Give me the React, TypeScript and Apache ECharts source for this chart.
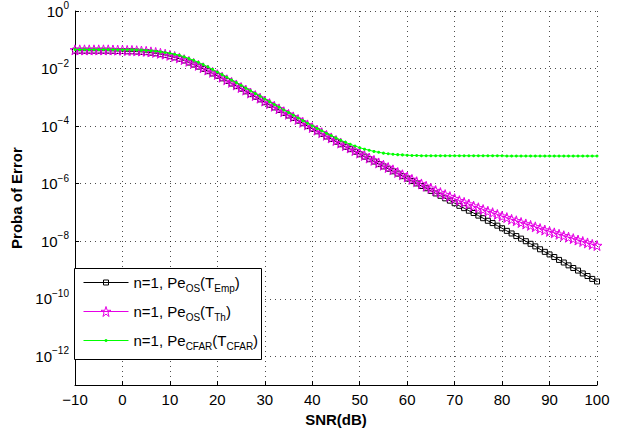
import React, { useEffect, useRef } from 'react';
import * as echarts from 'echarts';

// SNR in dB (one marker per dB)
const snrDb = [
  -10, -9, -8, -7, -6, -5, -4, -3, -2, -1,
  0, 1, 2, 3, 4, 5, 6, 7, 8, 9,
  10, 11, 12, 13, 14, 15, 16, 17, 18, 19,
  20, 21, 22, 23, 24, 25, 26, 27, 28, 29,
  30, 31, 32, 33, 34, 35, 36, 37, 38, 39,
  40, 41, 42, 43, 44, 45, 46, 47, 48, 49,
  50, 51, 52, 53, 54, 55, 56, 57, 58, 59,
  60, 61, 62, 63, 64, 65, 66, 67, 68, 69,
  70, 71, 72, 73, 74, 75, 76, 77, 78, 79,
  80, 81, 82, 83, 84, 85, 86, 87, 88, 89,
  90, 91, 92, 93, 94, 95, 96, 97, 98, 99,
  100,
];

// n=1, Pe_OS(T_Emp)  (black squares)
const peOsEmp = [
  4.17e-2, 4.17e-2, 4.17e-2, 4.17e-2, 4.17e-2, 4.17e-2, 4.17e-2, 4.17e-2, 4.12e-2, 4.07e-2,
  4.07e-2, 3.98e-2, 3.98e-2, 3.89e-2, 3.80e-2, 3.72e-2, 3.55e-2, 3.39e-2, 3.16e-2, 2.95e-2,
  2.69e-2, 2.45e-2, 2.19e-2, 1.91e-2, 1.62e-2, 1.38e-2, 1.17e-2, 9.77e-3, 8.13e-3, 6.76e-3,
  5.62e-3, 4.57e-3, 3.72e-3, 3.02e-3, 2.45e-3, 2.00e-3, 1.62e-3, 1.29e-3, 1.05e-3, 8.51e-4,
  6.76e-4, 5.50e-4, 4.47e-4, 3.63e-4, 2.88e-4, 2.34e-4, 1.91e-4, 1.55e-4, 1.26e-4, 1.00e-4,
  8.13e-5, 6.61e-5, 5.37e-5, 4.37e-5, 3.55e-5, 2.88e-5, 2.34e-5, 1.91e-5, 1.58e-5, 1.29e-5,
  1.05e-5, 8.71e-6, 7.08e-6, 5.89e-6, 4.79e-6, 3.98e-6, 3.31e-6, 2.69e-6, 2.24e-6, 1.82e-6,
  1.51e-6, 1.23e-6, 1.02e-6, 8.32e-7, 6.92e-7, 5.62e-7, 4.57e-7, 3.80e-7, 3.09e-7, 2.57e-7,
  2.09e-7, 1.70e-7, 1.41e-7, 1.15e-7, 9.55e-8, 7.76e-8, 6.31e-8, 5.13e-8, 4.27e-8, 3.47e-8,
  2.82e-8, 2.29e-8, 1.86e-8, 1.51e-8, 1.23e-8, 1.00e-8, 8.13e-9, 6.61e-9, 5.25e-9, 4.27e-9,
  3.47e-9, 2.82e-9, 2.24e-9, 1.82e-9, 1.45e-9, 1.17e-9, 9.55e-10, 7.59e-10, 6.17e-10, 4.90e-10,
  3.98e-10,
];

// n=1, Pe_OS(T_Th)  (magenta stars)
const peOsTh = [
  4.47e-2, 4.47e-2, 4.47e-2, 4.47e-2, 4.47e-2, 4.47e-2, 4.47e-2, 4.47e-2, 4.42e-2, 4.37e-2,
  4.37e-2, 4.27e-2, 4.27e-2, 4.17e-2, 4.07e-2, 3.98e-2, 3.80e-2, 3.63e-2, 3.39e-2, 3.16e-2,
  2.88e-2, 2.63e-2, 2.34e-2, 2.04e-2, 1.78e-2, 1.51e-2, 1.29e-2, 1.07e-2, 8.91e-3, 7.41e-3,
  6.17e-3, 5.01e-3, 4.07e-3, 3.31e-3, 2.69e-3, 2.19e-3, 1.78e-3, 1.41e-3, 1.15e-3, 9.33e-4,
  7.41e-4, 6.03e-4, 4.90e-4, 3.98e-4, 3.16e-4, 2.57e-4, 2.09e-4, 1.70e-4, 1.35e-4, 1.10e-4,
  8.91e-5, 7.24e-5, 5.89e-5, 4.79e-5, 3.89e-5, 3.16e-5, 2.57e-5, 2.09e-5, 1.74e-5, 1.41e-5,
  1.15e-5, 9.55e-6, 7.76e-6, 6.46e-6, 5.25e-6, 4.37e-6, 3.63e-6, 3.02e-6, 2.45e-6, 2.04e-6,
  1.70e-6, 1.41e-6, 1.17e-6, 9.77e-7, 8.13e-7, 6.92e-7, 5.75e-7, 4.90e-7, 4.17e-7, 3.55e-7,
  3.02e-7, 2.57e-7, 2.24e-7, 1.95e-7, 1.66e-7, 1.45e-7, 1.26e-7, 1.10e-7, 9.77e-8, 8.51e-8,
  7.41e-8, 6.61e-8, 5.75e-8, 5.13e-8, 4.47e-8, 3.98e-8, 3.55e-8, 3.16e-8, 2.75e-8, 2.45e-8,
  2.19e-8, 1.95e-8, 1.74e-8, 1.55e-8, 1.38e-8, 1.23e-8, 1.10e-8, 9.77e-9, 8.71e-9, 7.76e-9,
  7.08e-9,
];

// n=1, Pe_CFAR(T_CFAR)  (green dots)
const peCfar = [
  4.57e-2, 4.57e-2, 4.57e-2, 4.57e-2, 4.57e-2, 4.57e-2, 4.57e-2, 4.57e-2, 4.57e-2, 4.52e-2,
  4.52e-2, 4.52e-2, 4.47e-2, 4.42e-2, 4.37e-2, 4.27e-2, 4.17e-2, 3.98e-2, 3.80e-2, 3.63e-2,
  3.39e-2, 3.16e-2, 2.88e-2, 2.57e-2, 2.24e-2, 1.95e-2, 1.66e-2, 1.38e-2, 1.15e-2, 9.33e-3,
  7.59e-3, 6.17e-3, 5.01e-3, 3.98e-3, 3.24e-3, 2.63e-3, 2.09e-3, 1.70e-3, 1.35e-3, 1.10e-3,
  8.71e-4, 7.08e-4, 5.62e-4, 4.57e-4, 3.63e-4, 2.95e-4, 2.40e-4, 1.91e-4, 1.55e-4, 1.26e-4,
  1.02e-4, 8.32e-5, 6.92e-5, 5.62e-5, 4.68e-5, 3.89e-5, 3.24e-5, 2.75e-5, 2.34e-5, 2.04e-5,
  1.78e-5, 1.58e-5, 1.45e-5, 1.32e-5, 1.23e-5, 1.15e-5, 1.10e-5, 1.05e-5, 1.02e-5, 1.00e-5,
  9.77e-6, 9.55e-6, 9.55e-6, 9.33e-6, 9.33e-6, 9.33e-6, 9.33e-6, 9.33e-6, 9.33e-6, 9.33e-6,
  9.33e-6, 9.33e-6, 9.33e-6, 9.33e-6, 9.33e-6, 9.33e-6, 9.33e-6, 9.33e-6, 9.33e-6, 9.33e-6,
  9.33e-6, 9.12e-6, 9.12e-6, 9.12e-6, 9.12e-6, 9.12e-6, 9.12e-6, 9.12e-6, 9.12e-6, 9.12e-6,
  9.12e-6, 9.12e-6, 9.12e-6, 9.12e-6, 9.12e-6, 9.12e-6, 9.12e-6, 9.12e-6, 9.12e-6, 9.12e-6,
  9.12e-6,
];

const yTickValues = [1e-12, 1e-10, 1e-8, 1e-6, 1e-4, 1e-2, 1];

const seriesNames = ['n=1, Pe_OS(T_Emp)', 'n=1, Pe_OS(T_Th)', 'n=1, Pe_CFAR(T_CFAR)'];
const legendLabels: Record<string, string> = {
  'n=1, Pe_OS(T_Emp)': '{n|n=1, Pe}{s|OS}{n|(T}{s|Emp}{n|)}',
  'n=1, Pe_OS(T_Th)': '{n|n=1, Pe}{s|OS}{n|(T}{s|Th}{n|)}',
  'n=1, Pe_CFAR(T_CFAR)': '{n|n=1, Pe}{s|CFAR}{n|(T}{s|CFAR}{n|)}',
};

const FONT = "'Liberation Sans', Arial, Helvetica, sans-serif";
const BLACK = '#000000';
const MAGENTA = '#e600e6';
const GREEN = '#00ff00';
const CLEAR = 'rgba(255,255,255,0)';
const STAR =
  'path://M50,0 L61.2,34.5 L97.6,34.5 L68.2,55.9 L79.4,90.5 L50,69.1 L20.6,90.5 L31.8,55.9 L2.4,34.5 L38.8,34.5 Z';

const gridLine = { show: true, lineStyle: { color: '#000', width: 1, type: [1, 4] as number[], opacity: 0.7 } };

const legendRich = {
  n: { fontSize: 15, fontFamily: FONT, color: '#000' },
  s: { fontSize: 10, fontFamily: FONT, color: '#000', padding: [12, 0, 0, 0] },
};

function makeLegend(
  name: string,
  top: number,
  itemHeight: number,
  color: string,
  itemStyle: Record<string, unknown>,
) {
  return {
    data: [name],
    orient: 'vertical',
    left: 83,
    top,
    padding: 0,
    itemWidth: 45,
    itemHeight,
    itemGap: 0,
    z: 6,
    selectedMode: false,
    lineStyle: { color, width: 1 },
    itemStyle,
    textStyle: { color: '#000', fontFamily: FONT, fontSize: 15, rich: legendRich },
    formatter: (n: string) => legendLabels[n],
  };
}

export default function App() {
  const ref = useRef<HTMLDivElement>(null);

  useEffect(() => {
    if (!ref.current) return;
    const chart = echarts.init(ref.current, null, { renderer: 'svg' });
    const pairs = (ys: number[]) => snrDb.map((x, i) => [x, ys[i]]);

    chart.setOption({
      animation: false,
      backgroundColor: '#ffffff',
      textStyle: { fontFamily: FONT },
      grid: { left: 75, right: 35, top: 11, bottom: 45, containLabel: false },
      xAxis: {
        type: 'value',
        min: -10,
        max: 100,
        interval: 10,
        name: 'SNR(dB)',
        nameLocation: 'middle',
        nameGap: 19,
        nameTextStyle: { fontFamily: FONT, fontWeight: 'bold', fontSize: 15, color: '#000' },
        axisLine: { show: true, onZero: false, lineStyle: { color: '#000', width: 1 } },
        axisTick: { show: true, inside: true, length: 4, lineStyle: { color: '#000' } },
        axisLabel: {
          color: '#000',
          fontSize: 15,
          fontFamily: FONT,
          margin: 7,
          formatter: (v: number) => (v < 0 ? '\u2212' + -v : String(v)),
        },
        splitLine: gridLine,
      },
      yAxis: {
        type: 'log',
        logBase: 10,
        min: 1e-13,
        max: 1,
        name: 'Proba of Error',
        nameLocation: 'middle',
        nameGap: 41,
        nameTextStyle: { fontFamily: FONT, fontWeight: 'bold', fontSize: 15, color: '#000' },
        axisLine: { show: true, onZero: false, lineStyle: { color: '#000', width: 1 } },
        axisTick: { show: true, inside: true, length: 4, customValues: yTickValues, lineStyle: { color: '#000' } },
        axisLabel: {
          customValues: yTickValues,
          margin: 6,
          color: '#000',
          formatter: (v: number) => {
            const e = Math.round(Math.log10(v));
            return '{b|10}{s|' + (e === 0 ? '0' : '\u2212' + -e) + '}';
          },
          rich: {
            b: { fontSize: 15, fontFamily: FONT, color: '#000' },
            s: { fontSize: 10, fontFamily: FONT, color: '#000', padding: [0, 0, 11, 0] },
          },
        },
        splitLine: gridLine,
      },
      legend: [
        makeLegend(seriesNames[0], 275, 6.25, BLACK, { color: CLEAR, borderColor: BLACK, borderWidth: 1 }),
        makeLegend(seriesNames[1], 304, 12.5, MAGENTA, { color: CLEAR, borderColor: MAGENTA, borderWidth: 1 }),
        makeLegend(seriesNames[2], 333, 3.75, GREEN, { color: GREEN, borderWidth: 0 }),
      ],
      graphic: [
        {
          type: 'rect',
          z: 5,
          shape: { x: 74.5, y: 268.5, width: 187, height: 91 },
          style: { fill: '#ffffff', stroke: '#000000', lineWidth: 1 },
        },
      ],
      series: [
        {
          name: seriesNames[0],
          type: 'line',
          data: pairs(peOsEmp),
          symbol: 'rect',
          symbolSize: 5,
          lineStyle: { color: BLACK, width: 1 },
          itemStyle: { color: CLEAR, borderColor: BLACK, borderWidth: 1 },
          z: 2,
        },
        {
          name: seriesNames[1],
          type: 'line',
          data: pairs(peOsTh),
          symbol: STAR,
          symbolSize: 10,
          lineStyle: { color: MAGENTA, width: 1 },
          itemStyle: { color: CLEAR, borderColor: MAGENTA, borderWidth: 1 },
          z: 3,
        },
        {
          name: seriesNames[2],
          type: 'line',
          data: pairs(peCfar),
          symbol: 'circle',
          symbolSize: 3,
          lineStyle: { color: GREEN, width: 1 },
          itemStyle: { color: GREEN, borderWidth: 0 },
          z: 4,
        },
      ],
    });

    return () => chart.dispose();
  }, []);

  return (
    <div
      ref={ref}
      style={{ position: 'fixed', left: 0, top: 0, width: 632, height: 432, background: '#ffffff' }}
    />
  );
}
